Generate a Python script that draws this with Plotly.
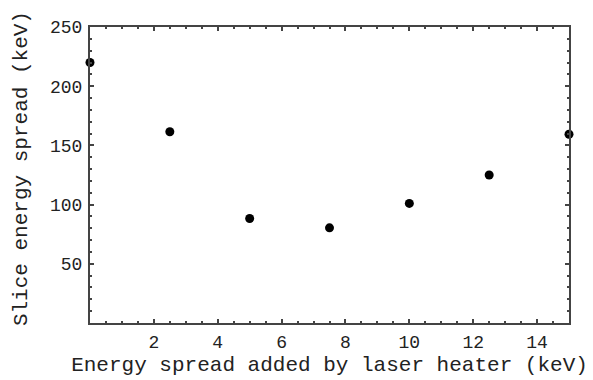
import plotly.graph_objects as go

added_spread = [0, 2.5, 5, 7.5, 10, 12.5, 15]
slice_spread = [220, 161.5, 88.3, 80.4, 101, 125, 159.4]

x_ticks = [2, 4, 6, 8, 10, 12, 14]
y_ticks = [50, 100, 150, 200, 250]

title_font = dict(family="Liberation Mono, Courier New, monospace", size=21, color="#222")
tick_font = dict(family="Liberation Mono, Courier New, monospace", size=18, color="#222")

fig = go.Figure()
fig.add_trace(go.Scatter(
    x=added_spread, y=slice_spread, mode="markers",
    marker=dict(color="black", size=9),
    cliponaxis=False, showlegend=False,
))

axis_common = dict(
    showgrid=False, zeroline=False, showline=True, linecolor="#444", linewidth=2,
    mirror="allticks", ticks="inside", ticklen=4, tickwidth=1.5, tickcolor="#444",
    tickfont=tick_font, automargin=False,
)

# The page body adds an 8px offset, so the figure is laid out 8px smaller.
fig.update_layout(
    width=585, height=372,
    margin=dict(l=82, r=24, t=19, b=57),
    paper_bgcolor="white", plot_bgcolor="white",
    font=title_font,
    xaxis=dict(range=[0, 15], tickvals=x_ticks, ticktext=[str(v) for v in x_ticks],
               minor=dict(dtick=0.5, tick0=0, ticks="inside", ticklen=2, tickcolor="#444"),
               title=dict(text="Energy spread added by laser heater (keV)", font=title_font, standoff=5),
               ticklabelstandoff=1,
               **axis_common),
    yaxis=dict(range=[0, 250], tickvals=y_ticks, ticktext=[str(v) for v in y_ticks],
               minor=dict(dtick=10, tick0=0, ticks="inside", ticklen=2, tickcolor="#444"),
               ticklabelstandoff=2,
               **axis_common),
    annotations=[dict(
        text="Slice energy spread (keV)", font=title_font, textangle=-90,
        xref="paper", yref="paper", x=-0.144, y=0.52,
        xanchor="center", yanchor="middle", showarrow=False,
    )],
)

fig.write_html("out.html")
